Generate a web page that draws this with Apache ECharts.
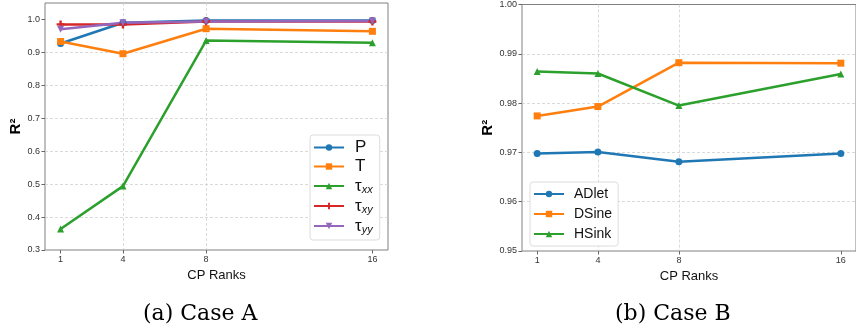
<!DOCTYPE html>
<html><head><meta charset="utf-8">
<script src="https://cdn.jsdelivr.net/npm/echarts@6/dist/echarts.min.js"></script>
<style>html,body{margin:0;padding:0;background:#fff}#c{width:856px;height:334px}</style>
</head><body><div id="c"></div>
<script>
// ---- data ----
const ranks = [1, 4, 8, 16];
const caseA_names = ['P', 'T', 'τxx', 'τxy', 'τyy'];
const caseA_P   = [0.927, 0.990, 0.997, 0.997];
const caseA_T   = [0.933, 0.896, 0.972, 0.964];
const caseA_txx = [0.364, 0.494, 0.936, 0.929];
const caseA_txy = [0.985, 0.985, 0.994, 0.994];
const caseA_tyy = [0.970, 0.990, 0.994, 0.995];
const caseB_names = ['ADlet', 'DSine', 'HSink'];
const caseB_ADlet = [0.9698, 0.9701, 0.9681, 0.9698];
const caseB_DSine = [0.9774, 0.9793, 0.9882, 0.9881];
const caseB_HSink = [0.9864, 0.9860, 0.9795, 0.9859];
const yTicksA = [0.3, 0.4, 0.5, 0.6, 0.7, 0.8, 0.9, 1.0];
const yTicksB = [0.95, 0.96, 0.97, 0.98, 0.99, 1.00];
const captions = ['(a) Case A', '(b) Case B'];

const colors = ['#1f77b4', '#ff7f0e', '#2ca02c', '#d62728', '#9467bd'];
const plusPath = 'path://M3.5,0H6.5V3.5H10V6.5H6.5V10H3.5V6.5H0V3.5H3.5Z';
const symbols = [
  {symbol: 'circle', rot: 0},
  {symbol: 'rect', rot: 0},
  {symbol: 'triangle', rot: 0},
  {symbol: plusPath, rot: 0},
  {symbol: 'triangle', rot: 180}
];

function pairs(vals) { return ranks.map((r, i) => [r, vals[i]]); }

const chart = echarts.init(document.getElementById('c'), null, {renderer: 'canvas'});
const gridStyle = {show: true, borderColor: '#808080', borderWidth: 1, backgroundColor: 'transparent'};
const splitStyle = {show: true, showMinLine: false, showMaxLine: false, lineStyle: {color: '#d0d0d0', type: [3, 2], width: 0.8}};
const labelFont = {fontFamily: 'Liberation Sans', fontSize: 9, color: '#333'};

function xAxis(gi) {
  return {
    type: 'value', gridIndex: gi, min: 0.25, max: 16.75,
    axisLine: {show: false},
    axisTick: {show: true, customValues: ranks, length: 3.5, lineStyle: {color: '#666'}},
    axisLabel: Object.assign({customValues: ranks, margin: 5}, labelFont),
    splitLine: splitStyle,
    name: 'CP Ranks', nameLocation: 'middle', nameGap: 17,
    nameTextStyle: {fontFamily: 'Liberation Sans', fontSize: 13, color: '#111'}
  };
}

function yAxis(gi, min, max, interval, dec, gap, ticks) {
  return {
    type: 'value', gridIndex: gi, min: min, max: max, interval: interval,
    axisLine: {show: false},
    axisTick: {show: true, length: 3.5, lineStyle: {color: '#666'}, customValues: ticks},
    axisLabel: Object.assign({margin: 5, customValues: ticks, formatter: v => v.toFixed(dec)}, labelFont),
    splitLine: splitStyle,
    name: 'R²', nameLocation: 'middle', nameRotate: 90, nameGap: gap,
    nameTextStyle: {fontFamily: 'Liberation Sans', fontSize: 15, fontWeight: 'bold', color: '#000'}
  };
}

const seriesA = [caseA_P, caseA_T, caseA_txx, caseA_txy, caseA_tyy].map((vals, i) => ({
  name: caseA_names[i], type: 'line', xAxisIndex: 0, yAxisIndex: 0,
  data: pairs(vals), symbol: symbols[i].symbol, symbolRotate: symbols[i].rot,
  symbolSize: i === 3 ? 8 : 7, showAllSymbol: true,
  lineStyle: {width: 2.5, color: colors[i]}, itemStyle: {color: colors[i]},
  emphasis: {disabled: true}, animation: false
}));
const seriesB = [caseB_ADlet, caseB_DSine, caseB_HSink].map((vals, i) => ({
  name: caseB_names[i], type: 'line', xAxisIndex: 1, yAxisIndex: 1,
  data: pairs(vals), symbol: symbols[i].symbol, symbolRotate: symbols[i].rot,
  symbolSize: 7, showAllSymbol: true,
  lineStyle: {width: 2.5, color: colors[i]}, itemStyle: {color: colors[i]},
  emphasis: {disabled: true}, animation: false
}));

const legendRich = {
  t: {fontFamily: 'Liberation Sans', fontSize: 17, color: '#111', lineHeight: 16, padding: [0, 0, 0, 6]},
  s: {fontFamily: 'Liberation Sans', fontSize: 11, fontStyle: 'italic', color: '#111', lineHeight: 16, padding: [7, 0, 0, 0]}
};
function legendFmt(name) {
  if (name.startsWith('τ')) return '{t|τ}{s|' + name.slice(1) + '}';
  return '{t|' + name + '}';
}

const option = {
  animation: false,
  grid: [
    Object.assign({left: 45, top: 3, width: 343, height: 247}, gridStyle),
    Object.assign({left: 522, top: 3, width: 340, height: 248}, gridStyle)
  ],
  xAxis: [xAxis(0), xAxis(1)],
  yAxis: [yAxis(0, 0.3, 1.05, 0.1, 1, 21, yTicksA), yAxis(1, 0.95, 1.0, 0.01, 2, 19, yTicksB)],
  legend: [
    {
      data: caseA_names, orient: 'vertical', left: 310, top: 135,
      itemWidth: 30, itemHeight: 8, itemGap: 2,
      padding: [4, 7, 5, 3], backgroundColor: '#fff',
      borderColor: '#dcdcdc', borderWidth: 1, borderRadius: 3,
      formatter: legendFmt,
      textStyle: {fontFamily: 'Liberation Sans', fontSize: 16, color: '#111', lineHeight: 16, rich: legendRich}
    },
    {
      data: caseB_names, orient: 'vertical', left: 530, top: 182,
      itemWidth: 30, itemHeight: 8, itemGap: 4,
      padding: [4, 6, 4, 3], backgroundColor: '#fff',
      borderColor: '#dcdcdc', borderWidth: 1, borderRadius: 3,
      textStyle: {fontFamily: 'Liberation Sans', fontSize: 14, color: '#111', lineHeight: 16, padding: [0, 0, 0, 5]}
    }
  ],
  graphic: [
    {type: 'text', left: 143, top: 303, style: {text: captions[0], font: '22px "DejaVu Serif"', fill: '#000'}},
    {type: 'text', left: 615, top: 303, style: {text: captions[1], font: '22px "DejaVu Serif"', fill: '#000'}}
  ],
  series: seriesA.concat(seriesB)
};
chart.setOption(option);
</script>
</body></html>
